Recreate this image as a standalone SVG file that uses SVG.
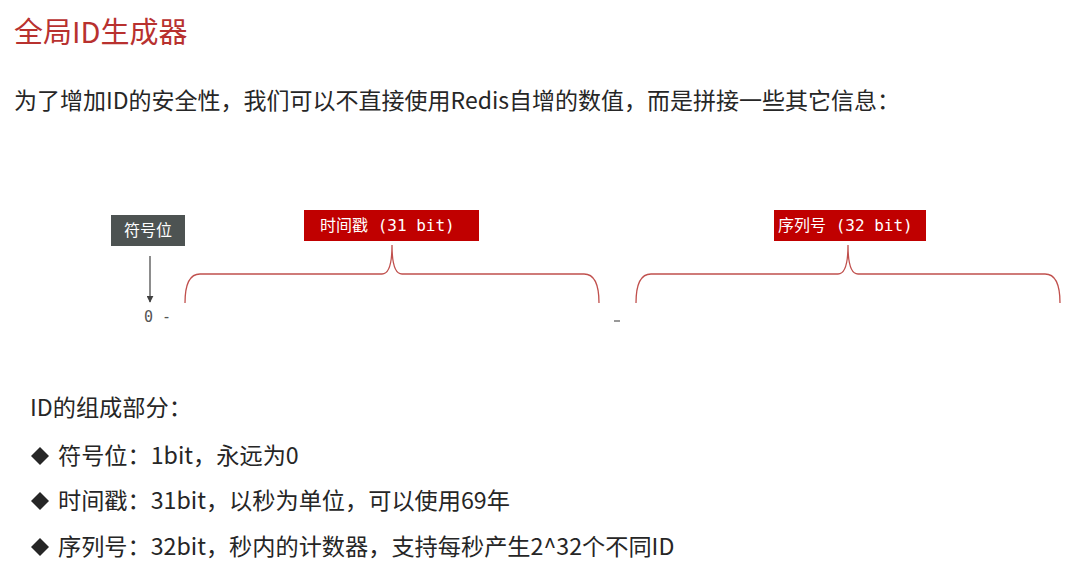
<svg xmlns="http://www.w3.org/2000/svg" width="1082" height="575" viewBox="0 0 1082 575">
<style>
.cjk{font-family:"Microsoft YaHei","Noto Sans CJK SC","Noto Sans",sans-serif}
.title{font-size:29px;fill:#b8312f}
.body{font-size:23px;fill:#262626}
.list{font-size:23.2px}
.boxtxt{font-size:16px;fill:#ffffff}
.mono{font-family:"DejaVu Sans Mono","Liberation Mono","Noto Sans CJK SC",monospace}
.brace{fill:none;stroke:#c0504d;stroke-width:1.3}
</style>
<defs>
<marker id="arr" viewBox="0 0 10 10" refX="9" refY="5" markerWidth="7" markerHeight="7" orient="auto" markerUnits="userSpaceOnUse">
<path d="M0,0 L10,5 L0,10 z" fill="#404040"/>
</marker>
</defs>
<rect width="1082" height="575" fill="#ffffff"/>
<text class="cjk title" x="14" y="43">全局ID生成器</text>
<text class="cjk body" x="14" y="109">为了增加ID的安全性，我们可以不直接使用Redis自增的数值，而是拼接一些其它信息：</text>

<g id="sign-node">
<rect x="111" y="215" width="74" height="31" fill="#4d5352"/>
<text class="cjk boxtxt" x="148" y="236" text-anchor="middle">符号位</text>
</g>
<g id="timestamp-node">
<rect x="304" y="210" width="175" height="31" fill="#c00000"/>
<text class="mono boxtxt" x="320" y="231" font-size="15">时间戳 (31 bit)</text>
</g>
<g id="sequence-node">
<rect x="774" y="210" width="152" height="31" fill="#c00000"/>
<text class="mono boxtxt" x="778" y="231" font-size="15">序列号 (32 bit)</text>
</g>
<g id="bits">
<text class="mono" x="144" y="322" font-size="15" fill="#555555">0 -</text>
<line x1="614" y1="321" x2="620" y2="321" stroke="#555555" stroke-width="1.2"/>
</g>
<g id="connectors">
<line x1="150" y1="256" x2="150" y2="302" stroke="#404040" stroke-width="1.2" marker-end="url(#arr)"/>
<path class="brace" d="M185,303 C185,285 190,274 200,274 L382,274 C389,274 392,265 392,245 C392,265 395,274 402,274 L584,274 C594,274 599,285 599,303"/>
<path class="brace" d="M636,303 C636,285 641,274 651,274 L838,274 C845,274 848,265 848,245 C848,265 851,274 858,274 L1045,274 C1055,274 1060,285 1060,303"/>
</g>
<g id="list">
<text class="cjk body list" x="30" y="416">ID的组成部分：</text>
<path d="M40,447 L49,456 L40,465 L31,456 z" fill="#262626"/>
<text class="cjk body list" x="58" y="464">符号位：1bit，永远为0</text>
<path d="M40,492 L49,501 L40,510 L31,501 z" fill="#262626"/>
<text class="cjk body list" x="58" y="509">时间戳：31bit，以秒为单位，可以使用69年</text>
<path d="M40,538 L49,547 L40,556 L31,547 z" fill="#262626"/>
<text class="cjk body list" x="58" y="555">序列号：32bit，秒内的计数器，支持每秒产生2^32个不同ID</text>
</g>
</svg>
